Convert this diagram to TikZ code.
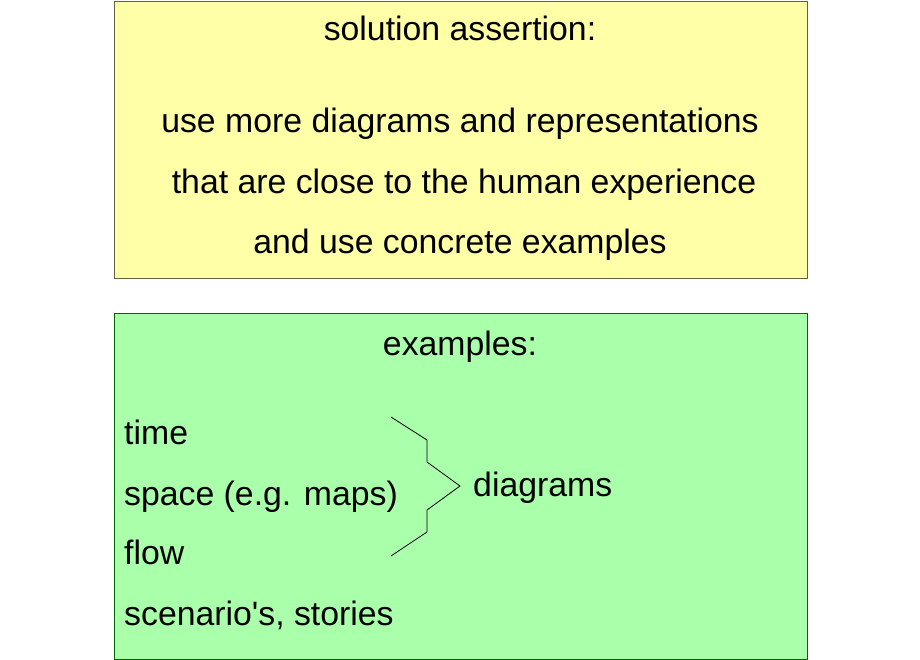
\documentclass[tikz,border=0pt]{standalone}
\usepackage{fontspec}
\setmainfont{Liberation Sans}
\begin{document}
\begin{tikzpicture}[x=1pt,y=-1pt,
  box/.style={draw=black!70!yellow, line width=0.8pt},
  txt/.style={font=\fontsize{33.8}{38}\selectfont, inner sep=0pt, anchor=base}]
\useasboundingbox (0,0) rectangle (920,660);
\draw[box, fill={rgb,255:red,255;green,255;blue,168}] (114,1) rectangle (807,278);
\draw[box, draw=green!40!black, fill={rgb,255:red,170;green,255;blue,170}] (114,313) rectangle (807,659);
\node[txt] (t1) at (460,41) {solution assertion:};
\node[txt] (t2) at (460,133) {use more diagrams and representations};
\node[txt] (t3) at (464,194) {that are close to the human experience};
\node[txt] (t4) at (460,254) {and use concrete examples};
\node[txt] (e) at (460,355) {examples:};
\node[txt, anchor=base west] (a) at (124,444) {time};
\node[txt, anchor=base west] (b) at (124,505) {space (e.g. maps)};
\node[txt, anchor=base west] (c) at (124,564) {flow};
\node[txt, anchor=base west] (d) at (124,625) {scenario\textquotesingle s, stories};
\node[txt, anchor=base west] (g) at (473,496) {diagrams};
\draw[line width=0.8pt] (391,417) -- (427,440) -- (427,462) -- (460,486) -- (427,510) -- (427,532) -- (391,556);
\end{tikzpicture}
\end{document}
